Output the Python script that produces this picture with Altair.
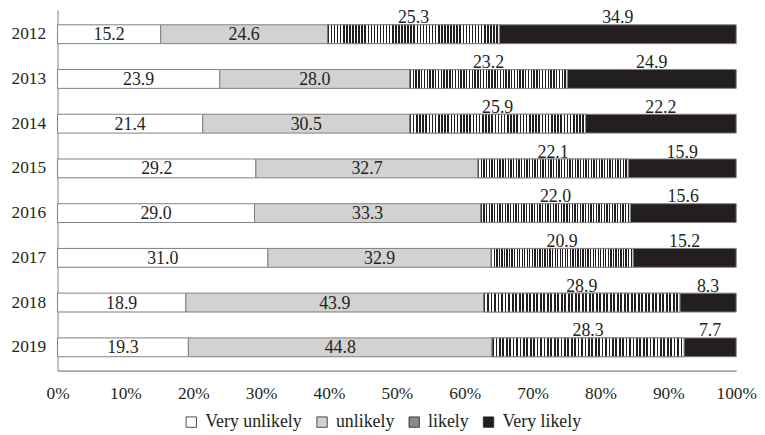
import altair as alt
import pandas as pd

years = ["2012", "2013", "2014", "2015", "2016", "2017", "2018", "2019"]
categories = ["Very unlikely", "unlikely", "likely", "Very likely"]
very_unlikely = [15.2, 23.9, 21.4, 29.2, 29.0, 31.0, 18.9, 19.3]
unlikely = [24.6, 28.0, 30.5, 32.7, 33.3, 32.9, 43.9, 44.8]
likely = [25.3, 23.2, 25.9, 22.1, 22.0, 20.9, 28.9, 28.3]
very_likely = [34.9, 24.9, 22.2, 15.9, 15.6, 15.2, 8.3, 7.7]
x_ticks = [0, 0.1, 0.2, 0.3, 0.4, 0.5, 0.6, 0.7, 0.8, 0.9, 1.0]

series = [very_unlikely, unlikely, likely, very_likely]
rows = []
for i, y in enumerate(years):
    for j, c in enumerate(categories):
        rows.append({"year": y, "cat": c, "ord": j, "value": series[j][i]})
df = pd.DataFrame(rows)

FONT = "Liberation Serif"
DARK = "#231f20"
EDGE = "#7f7f7f"

# vertical stripe fill for "likely"
N = 56
stops = []
for i in range(N):
    a, b, c = i / N, (i + 0.5) / N, (i + 1) / N
    stops += [
        {"offset": a, "color": DARK},
        {"offset": b, "color": DARK},
        {"offset": b, "color": "#ffffff"},
        {"offset": c, "color": "#ffffff"},
    ]
stripes = {"gradient": "linear", "x1": 0, "x2": 1, "y1": 0, "y2": 0, "stops": stops}

base = (
    alt.Chart(df)
    .transform_stack(
        stack="value", as_=["v0", "v1"], groupby=["year"],
        sort=[alt.SortField("ord", order="ascending")], offset="normalize",
    )
    .transform_calculate(mid="(datum.v0 + datum.v1) / 2")
)

yenc = alt.Y(
    "year:N",
    sort=years,
    title=None,
    scale=alt.Scale(paddingInner=0.579, paddingOuter=0.321, align=0.517),
    axis=alt.Axis(ticks=False, tickSize=0, labelPadding=12, domainColor=EDGE,
                  labelFont=FONT, labelFontSize=17.5, labelColor=DARK),
)
xscale = alt.Scale(domain=[0, 1], nice=False)

bars = base.mark_bar(stroke=EDGE, strokeWidth=1).encode(
    x=alt.X("v0:Q", scale=xscale, title=None,
            axis=alt.Axis(format="%", values=x_ticks, grid=False, ticks=False, tickSize=0,
                          labelPadding=14, labelFlush=False, domainColor="#595959",
                          labelFont=FONT, labelFontSize=17.5, labelColor=DARK)),
    x2="v1:Q",
    y=yenc,
    color=alt.Color(
        "cat:N",
        scale=alt.Scale(domain=categories, range=["#ffffff", "#d2d2d2", "#8a8a8a", DARK]),
        legend=alt.Legend(
            title=None, orient="none", legendX=126, legendY=407, direction="horizontal",
            symbolType="square", symbolSize=110, symbolStrokeColor=DARK, symbolStrokeWidth=0.8,
            labelFont=FONT, labelFontSize=18, labelColor=DARK, labelOffset=5,
            columnPadding=11,
        ),
    ),
)

striped = base.transform_filter("datum.ord == 2").mark_bar(
    fill=stripes, stroke=EDGE, strokeWidth=1
).encode(x=alt.X("v0:Q", scale=xscale), x2="v1:Q", y=yenc)

text_in = base.transform_filter("datum.ord < 2").mark_text(
    font=FONT, fontSize=18, color=DARK, baseline="middle", dy=1
).encode(x=alt.X("mid:Q", scale=xscale), y=yenc, text=alt.Text("value:Q", format=".1f"))

text_up = base.transform_filter("datum.ord >= 2").mark_text(
    font=FONT, fontSize=18, color=DARK, baseline="alphabetic", dy=-11
).encode(x=alt.X("mid:Q", scale=xscale), y=yenc, text=alt.Text("value:Q", format=".1f"))

chart = (
    alt.layer(bars, striped, text_in, text_up)
    .properties(
        width=685, height=364,
        autosize=alt.AutoSizeParams(type="none"),
        padding={"left": 50, "top": 0, "right": 21, "bottom": 60},
    )
    .configure_view(strokeWidth=0)
)

chart.save("out.html", embed_options={"renderer": "svg", "actions": False})
